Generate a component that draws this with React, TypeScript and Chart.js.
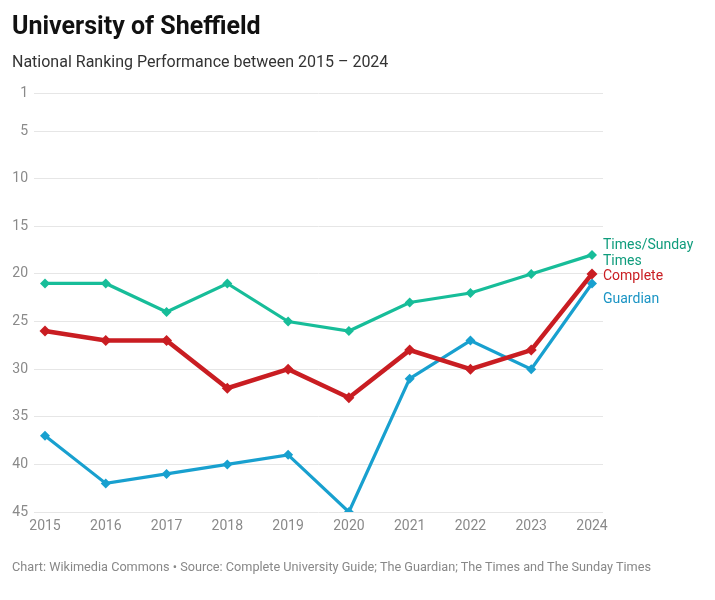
import React, { useEffect, useRef } from "react";
import { Chart, registerables } from "chart.js";

Chart.register(...registerables);

const years = [2015, 2016, 2017, 2018, 2019, 2020, 2021, 2022, 2023, 2024];
const timesRank = [21, 21, 24, 21, 25, 26, 23, 22, 20, 18];
const completeRank = [26, 27, 27, 32, 30, 33, 28, 30, 28, 20];
const guardianRank = [37, 42, 41, 40, 39, 45, 31, 27, 30, 21];
const yTicks = [1, 5, 10, 15, 20, 25, 30, 35, 40, 45];

const seriesNames = ["Times/Sunday Times", "Complete", "Guardian"];
const lineColors = ["#17bd99", "#c91d22", "#18a0cf"];
const labelColors = ["#0f9c7c", "#c91d22", "#1a94c4"];
const labelLines = [["Times/Sunday", "Times"], ["Complete"], ["Guardian"]];
const labelOffsets = [-1, 3, 16];

const FONT = "Roboto, 'Noto Sans', sans-serif";

export default function App() {
  const ref = useRef<HTMLCanvasElement | null>(null);

  useEffect(() => {
    document.body.style.margin = "0";
    const ctx = ref.current!.getContext("2d")!;
    const allData = [timesRank, completeRank, guardianRank];

    const endLabels = {
      id: "endLabels",
      afterDatasetsDraw(chart: any) {
        const c = chart.ctx;
        const xs = chart.scales.x;
        const ys = chart.scales.y;
        c.save();
        c.font = `14px ${FONT}`;
        c.textBaseline = "middle";
        c.textAlign = "left";
        allData.forEach((d, i) => {
          const last = d[d.length - 1];
          const x = xs.getPixelForValue(years[years.length - 1]) + 11;
          const y = ys.getPixelForValue(last) + labelOffsets[i];
          c.fillStyle = labelColors[i];
          const lines = labelLines[i];
          lines.forEach((t, k) => {
            c.fillText(t, x, y + (k - (lines.length - 1) / 2) * 16);
          });
        });
        c.restore();
      },
    };

    const chart = new Chart(ctx, {
      type: "line",
      data: {
        datasets: allData.map((d, i) => ({
          label: seriesNames[i],
          data: d.map((v, k) => ({ x: years[k], y: v })),
          borderColor: lineColors[i],
          backgroundColor: lineColors[i],
          borderWidth: i === 1 ? 4.5 : 3.2,
          pointStyle: "rectRot",
          pointRadius: i === 1 ? 5.5 : 5,
          pointBorderWidth: 0,
          pointHoverRadius: 5,
          tension: 0,
          order: i === 1 ? 0 : i === 0 ? 2 : 1,
        })),
      },
      options: {
        animation: false,
        responsive: false,
        maintainAspectRatio: false,
        layout: { padding: { top: 93, right: 112, left: 0, bottom: 0 } },
        plugins: {
          legend: { display: false },
          tooltip: { enabled: false },
        },
        scales: {
          x: {
            type: "linear",
            min: 2015 - 0.181,
            max: 2024 + 0.181,
            afterBuildTicks: (s: any) => {
              s.ticks = years.map((v) => ({ value: v }));
            },
            afterFit: (s: any) => {
              s.height = 88;
            },
            grid: { display: false, drawTicks: false },
            border: { display: false },
            ticks: {
              padding: 6,
              color: "#8a8a8a",
              font: { family: FONT, size: 14 },
              callback: (v: any) => String(v),
              maxRotation: 0,
              autoSkip: false,
            },
          },
          y: {
            type: "linear",
            reverse: true,
            min: 1,
            max: 45,
            afterBuildTicks: (s: any) => {
              s.ticks = yTicks.map((v) => ({ value: v }));
            },
            afterFit: (s: any) => {
              s.width = 34;
            },
            grid: { color: "#e6e6e6", lineWidth: 1, drawTicks: false },
            border: { display: false },
            ticks: {
              padding: 6,
              color: "#8a8a8a",
              font: { family: FONT, size: 14 },
              autoSkip: false,
            },
          },
        },
      },
      plugins: [endLabels],
    });
    return () => chart.destroy();
  }, []);

  return (
    <div style={{ position: "absolute", left: 0, top: 0, width: 715, height: 600, background: "#fff", fontFamily: FONT }}>
      <canvas ref={ref} width={715} height={600} style={{ position: "absolute", left: 0, top: 0, width: 715, height: 600 }} />
      <div style={{ position: "absolute", left: 12, top: 11, fontSize: 25, fontWeight: 700, color: "#111", whiteSpace: "nowrap" }}>
        University of Sheffield
      </div>
      <div style={{ position: "absolute", left: 12, top: 52, fontSize: 16, color: "#333", whiteSpace: "nowrap" }}>
        National Ranking Performance between 2015 – 2024
      </div>
      <div style={{ position: "absolute", left: 12, top: 559, fontSize: 12.7, color: "#888", whiteSpace: "nowrap" }}>
        Chart: Wikimedia Commons • Source: Complete University Guide; The Guardian; The Times and The Sunday Times
      </div>
    </div>
  );
}
